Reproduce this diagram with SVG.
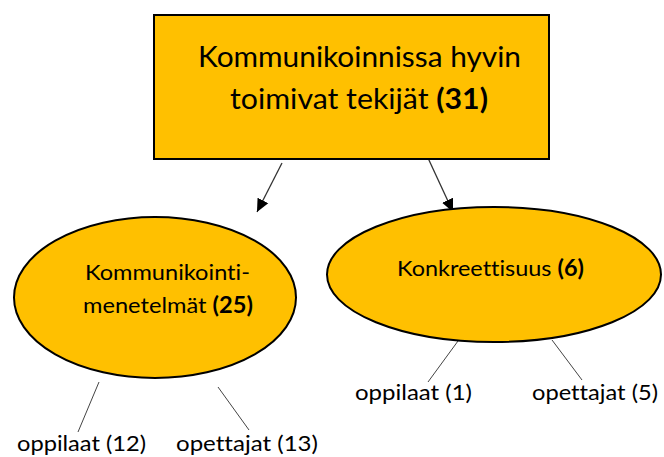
<svg xmlns="http://www.w3.org/2000/svg" width="664" height="457" viewBox="0 0 664 457">
<style>
.node{fill:#FFC000;stroke:#000;stroke-width:2}
.t{font-family:Lato,"Open Sans",sans-serif;fill:#000;font-variant-ligatures:none;font-feature-settings:"liga" 0}
.big{font-size:28px}
.mid{font-size:22px}
.b{font-weight:bold}
.arrow{stroke:#333;stroke-width:1.3;fill:none}
.leaf{stroke:#444;stroke-width:1;fill:none}
</style>
<defs>
<marker id="ah" markerUnits="userSpaceOnUse" markerWidth="14" markerHeight="14" viewBox="0 0 14 14" refX="13" refY="7" orient="auto">
<path d="M0,1 L13,7 L0,13 Z" fill="#000"/>
</marker>
</defs>
<g id="connectors">
<line class="arrow" x1="282" y1="163" x2="257" y2="212" marker-end="url(#ah)"/>
<line class="arrow" x1="428" y1="158" x2="453" y2="212" marker-end="url(#ah)"/>
<line class="leaf" x1="99" y1="382" x2="78" y2="432"/>
<line class="leaf" x1="218" y1="387" x2="249" y2="430"/>
<line class="leaf" x1="458" y1="341" x2="428" y2="382"/>
<line class="leaf" x1="552" y1="340" x2="582" y2="380"/>
</g>
<g id="root">
<rect class="node" x="154" y="15" width="395" height="144"/>
<text class="t big" x="198" y="67" textLength="323" lengthAdjust="spacingAndGlyphs">Kommunikoinnissa hyvin</text>
<text class="t big" x="230" y="109" textLength="258" lengthAdjust="spacingAndGlyphs">toimivat tekijät <tspan class="b">(31)</tspan></text>
</g>
<g id="kommunikointimenetelmat">
<ellipse class="node" cx="155" cy="297.5" rx="141" ry="80.5"/>
<text class="t mid" x="85" y="280" textLength="165" lengthAdjust="spacingAndGlyphs">Kommunikointi-</text>
<text class="t mid" x="83" y="313" textLength="170" lengthAdjust="spacingAndGlyphs">menetelmät <tspan class="b">(25)</tspan></text>
</g>
<g id="konkreettisuus">
<ellipse class="node" cx="494" cy="274.5" rx="167" ry="67.5"/>
<text class="t mid" x="397" y="276" textLength="187" lengthAdjust="spacingAndGlyphs">Konkreettisuus <tspan class="b">(6)</tspan></text>
</g>
<g id="leaf-oppilaat-12"><text class="t mid" x="17" y="451" textLength="129" lengthAdjust="spacingAndGlyphs">oppilaat (12)</text></g>
<g id="leaf-opettajat-13"><text class="t mid" x="176" y="451" textLength="142" lengthAdjust="spacingAndGlyphs">opettajat (13)</text></g>
<g id="leaf-oppilaat-1"><text class="t mid" x="355" y="400" textLength="117" lengthAdjust="spacingAndGlyphs">oppilaat (1)</text></g>
<g id="leaf-opettajat-5"><text class="t mid" x="532" y="400" textLength="126" lengthAdjust="spacingAndGlyphs">opettajat (5)</text></g>
</svg>
